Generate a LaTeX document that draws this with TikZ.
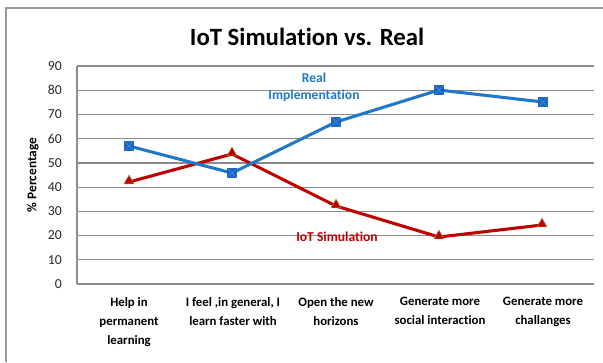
\documentclass[tikz,border=0pt]{standalone}
\usepackage{fontspec}
\setmainfont{Carlito}[Ligatures=NoCommon]
\usetikzlibrary{shapes.geometric}
\definecolor{realblue}{HTML}{1F78C8}
\definecolor{markblue}{HTML}{1A66C2}
\definecolor{crossblue}{HTML}{4F8AD6}
\definecolor{simred}{HTML}{C00000}
\definecolor{triedge}{HTML}{A08A3A}
\definecolor{gridgray}{HTML}{8C8C8C}
\definecolor{framegray}{HTML}{9A9A9A}
\tikzset{
  gridline/.style={draw=gridgray, line width=0.9pt},
  realline/.style={draw=realblue, line width=2.3pt, line join=round},
  simline/.style={draw=simred, line width=2.3pt, line join=round},
  sqmark/.style={rectangle, fill=markblue, minimum size=6.8pt, inner sep=0pt,
    path picture={\draw[crossblue, line width=0.4pt]
      (path picture bounding box.south west) -- (path picture bounding box.north east)
      (path picture bounding box.north west) -- (path picture bounding box.south east);}},
  trimark/.style={regular polygon, regular polygon sides=3, fill=simred, draw=triedge,
    line width=0.4pt, minimum size=8.6pt, inner sep=0pt},
  ticklabel/.style={anchor=east, font=\fontsize{10.3}{12}\selectfont, text=black!85, inner sep=0pt},
  catlabel/.style={anchor=north, align=center, font=\bfseries\fontsize{9.6}{14.3}\selectfont, inner sep=0pt},
  serieslabel/.style={font=\bfseries\fontsize{10.2}{13}\selectfont, align=center, inner sep=0pt}
}
\begin{document}
\begin{tikzpicture}[x=0.75pt,y=-0.75pt]
\useasboundingbox (0,0) rectangle (603,362);
\fill[white] (0,0) rectangle (603,362);
% outer frame (only left and top edges visible)
\draw[framegray, line width=0.9pt] (6,362) -- (6,8) -- (603,8);
% title
\node[font=\bfseries\fontsize{18.6}{22}\selectfont, inner sep=0pt] (title) at (307,37) {IoT Simulation vs. Real};
% gridlines and ticks
\foreach \v/\n in {0/0,10/1,20/2,30/3,40/4,50/5,60/6,70/7,80/8,90/9}{
  \draw[gridline] (77,{284-2.422*\v}) -- (594,{284-2.422*\v});
  \node[ticklabel] (tick\n) at (62,{284-2.422*\v}) {\v};
}
\draw[gridline] (77,66) -- (77,284);
% axis title
\node[rotate=90, font=\bfseries\fontsize{10}{12}\selectfont, inner sep=0pt] (ytitle) at (33,175) {\% Percentage};
% category labels
\node[catlabel] (c1) at (129,297) {Help in\\permanent\\learning};
\node[catlabel] (c2) at (233,297) {I feel ,in general, I\\learn faster with};
\node[catlabel] (c3) at (336,297) {Open the new\\horizons};
\node[catlabel] (c4) at (440,297) {Generate more\\social interaction};
\node[catlabel] (c5) at (543,297) {Generate more\\challanges};
% data coordinates
\coordinate (r1) at (129,146);
\coordinate (r2) at (232,173);
\coordinate (r3) at (336,122);
\coordinate (r4) at (439,90);
\coordinate (r5) at (543,102);
\coordinate (s1) at (129,182);
\coordinate (s2) at (232,154);
\coordinate (s3) at (336,206);
\coordinate (s4) at (439,237);
\coordinate (s5) at (542,225);
% series lines
\draw[simline] (s1) -- (s2) -- (s3) -- (s4) -- (s5);
\draw[realline] (r1) -- (r2) -- (r3) -- (r4) -- (r5);
% markers
\foreach \i in {1,...,5}{
  \node[trimark] (ms\i) at ([yshift=0.8pt]s\i) {};
}
\foreach \i in {1,...,5}{
  \node[sqmark] (mr\i) at (r\i) {};
}
% series labels
\node[serieslabel, text=realblue] (reallabel) at (314,87) {Real\\Implementation};
\node[serieslabel, text=simred] (simlabel) at (337,237) {IoT Simulation};
\end{tikzpicture}
\end{document}
